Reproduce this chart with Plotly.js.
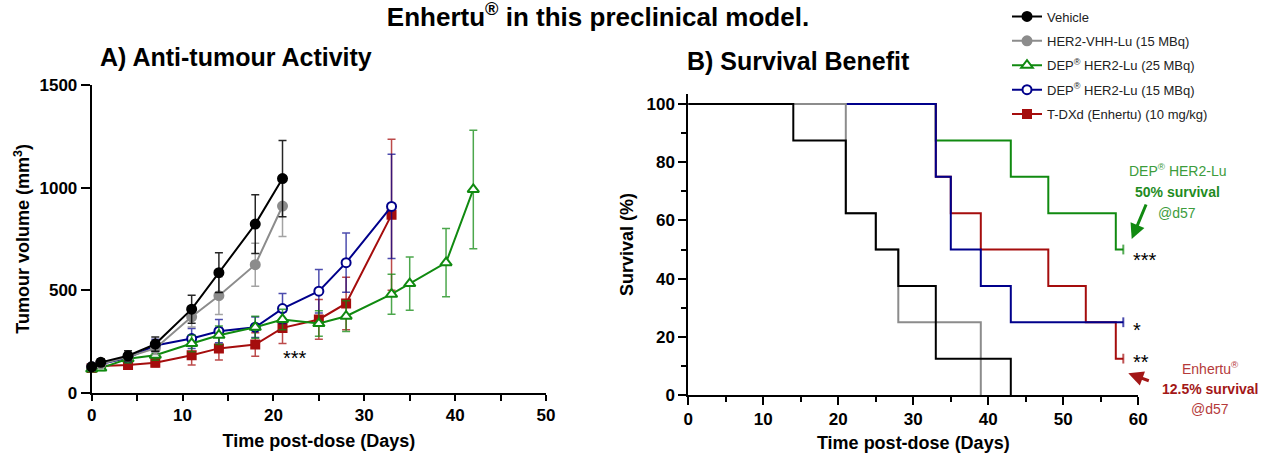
<!DOCTYPE html>
<html>
<head>
<meta charset="utf-8">
<script src="https://cdn.plot.ly/plotly-3.0.1.min.js"></script>
<style>html,body{margin:0;padding:0;background:#fff;}#chart{width:1274px;height:455px;}</style>
</head>
<body>
<div id="chart"></div>
<script>
// ---------- A) Tumour volume data ----------
const daysVehicle = [0, 1, 4, 7, 11, 14, 18, 21];
const volVehicle  = [126, 148, 180, 237, 407, 585, 822, 1044];
const errVehicle  = [15, 18, 25, 35, 68, 97, 143, 186];

const daysVHH = [0, 1, 4, 7, 11, 14, 18, 21];
const volVHH  = [126, 140, 175, 216, 370, 473, 624, 910];
const errVHH  = [12, 15, 22, 30, 50, 92, 105, 148];

const daysDEP25 = [0, 1, 4, 7, 11, 14, 18, 21, 25, 28, 33, 35, 39, 42];
const volDEP25  = [115, 120, 165, 183, 240, 280, 319, 357, 337, 373, 480, 532, 634, 991];
const errDEP25  = [10, 12, 20, 25, 40, 45, 54, 50, 62, 75, 97, 130, 166, 289];

const daysDEP15 = [0, 1, 4, 7, 11, 14, 18, 21, 25, 28, 33];
const volDEP15  = [126, 140, 170, 230, 264, 300, 319, 410, 495, 634, 908];
const errDEP15  = [12, 15, 22, 30, 49, 57, 50, 73, 106, 144, 254];

const daysTDXd = [0, 1, 4, 7, 11, 14, 18, 21, 25, 28, 33];
const volTDXd  = [120, 130, 135, 146, 183, 216, 235, 316, 357, 435, 867];
const errTDXd  = [10, 12, 15, 20, 48, 57, 57, 76, 97, 128, 368];

// ---------- B) Survival data ----------
const survTVehicle = [0, 14, 21, 25, 28, 33, 43];
const survVehicle  = [100, 87.5, 62.5, 50, 37.5, 12.5, 0];
const survTVHH = [0, 21, 25, 28, 39];
const survVHH  = [100, 62.5, 50, 25, 0];
const survTDEP25 = [0, 33, 43, 48, 57, 58];
const survDEP25  = [100, 87.5, 75, 62.5, 50, 50];
const survTDEP15 = [0, 33, 35, 39, 43, 58];
const survDEP15  = [100, 75, 50, 37.5, 25, 25];
const survTTDXd = [0, 33, 35, 39, 48, 53, 57, 58];
const survTDXd  = [100, 75, 62.5, 50, 37.5, 25, 12.5, 12.5];

const seriesNames = ['Vehicle', 'HER2-VHH-Lu (15 MBq)', 'DEP<sup>®</sup> HER2-Lu (25 MBq)',
                     'DEP<sup>®</sup> HER2-Lu (15 MBq)', 'T-DXd (Enhertu) (10 mg/kg)'];

const C = {veh:'#000000', vhh:'#8c8c8c', d25:'#108a10', d15:'#00008b', tdx:'#a50d0d'};
const FONT = 'Liberation Sans, Arial, Helvetica, sans-serif';

function tumour(x, y, e, name, color, errColor, symbol, fill, size, group) {
  return {
    x: x, y: y, name: name, type: 'scatter', mode: 'lines+markers',
    xaxis: 'x', yaxis: 'y', legendgroup: group, cliponaxis: false,
    line: {color: color, width: 2},
    marker: {symbol: symbol, size: size, color: fill, line: {color: color, width: 2}},
    error_y: {type: 'data', array: e, visible: true, color: errColor, thickness: 1.5, width: 4}
  };
}
function surv(t, s, color) {
  const sizes = t.map((v, i) => (i === t.length - 1 && v === 58) ? 7 : 0);
  return {
    x: t, y: s, type: 'scatter', mode: 'lines+markers', xaxis: 'x2', yaxis: 'y2',
    showlegend: false, cliponaxis: false, hoverinfo: 'skip',
    line: {color: color, width: 2, shape: 'hv'},
    marker: {symbol: 'line-ns', size: sizes, line: {color: color, width: 2}}
  };
}

const traces = [
  // survival (bottom to top)
  surv(survTDEP25, survDEP25, C.d25),
  surv(survTTDXd, survTDXd, C.tdx),
  surv(survTDEP15, survDEP15, C.d15),
  surv(survTVHH, survVHH, C.vhh),
  surv(survTVehicle, survVehicle, C.veh),
];
const tv = [
  tumour(daysVehicle, volVehicle, errVehicle, seriesNames[0], C.veh, 'rgba(0,0,0,0.85)', 'circle', C.veh, 9, 'g1'),
  tumour(daysVHH, volVHH, errVHH, seriesNames[1], C.vhh, 'rgba(140,140,140,0.8)', 'circle', C.vhh, 9, 'g2'),
  tumour(daysDEP25, volDEP25, errDEP25, seriesNames[2], C.d25, 'rgba(16,138,16,0.75)', 'triangle-up', '#ffffff', 10, 'g3'),
  tumour(daysDEP15, volDEP15, errDEP15, seriesNames[3], C.d15, 'rgba(0,0,139,0.7)', 'circle', '#ffffff', 9, 'g4'),
  tumour(daysTDXd, volTDXd, errTDXd, seriesNames[4], C.tdx, 'rgba(165,13,13,0.75)', 'square', C.tdx, 8, 'g5'),
];
// drawing order: red, blue, green, gray, black (legend order kept via legendrank)
tv.forEach((t, i) => t.legendrank = i + 1);
traces.push(tv[4], tv[3], tv[2], tv[1], tv[0]);

const axisCommon = {
  showline: true, linecolor: '#000', linewidth: 2, ticks: 'outside', tickcolor: '#000',
  tickwidth: 2, showgrid: false, zeroline: false, fixedrange: true,
  tickfont: {family: FONT, size: 17, color: '#000', weight: 'bold'},
};

const H = 455, W = 1274;
const py = v => 1 - v / H, px = v => v / W;

const layout = {
  width: W, height: H, margin: {l: 0, r: 0, t: 0, b: 0},
  paper_bgcolor: '#fff', plot_bgcolor: '#fff', showlegend: true,
  font: {family: FONT, color: '#000'},
  title: {text: 'Enhertu<sup>®</sup> in this preclinical model.', x: px(598), xanchor: 'center',
          y: py(17), yanchor: 'middle', yref: 'container',
          font: {family: FONT, size: 26, weight: 'bold', color: '#000'}},
  xaxis: Object.assign({}, axisCommon, {
    domain: [px(91.7), px(546)], range: [0, 50], dtick: 10, ticklen: 6,
    minor: {dtick: 5, ticks: 'outside', ticklen: 6, tickwidth: 2, tickcolor: '#000'},
    anchor: 'y',
    title: {text: 'Time post-dose (Days)', standoff: 10, font: {family: FONT, size: 18, weight: 'bold', color: '#000'}}
  }),
  yaxis: Object.assign({}, axisCommon, {
    domain: [py(392.7), py(85)], range: [0, 1500], dtick: 500, ticklen: 9,
    anchor: 'x',
    title: {text: 'Tumour volume (mm<sup>3</sup>)', standoff: 5, font: {family: FONT, size: 18, weight: 'bold', color: '#000'}}
  }),
  xaxis2: Object.assign({}, axisCommon, {
    domain: [px(688.3), px(1138.3)], range: [0, 60], dtick: 10, ticklen: 8,
    minor: {dtick: 5, ticks: 'outside', ticklen: 5, tickwidth: 2, tickcolor: '#000'},
    anchor: 'y2',
    title: {text: 'Time post-dose (Days)', standoff: 8, font: {family: FONT, size: 18, weight: 'bold', color: '#000'}}
  }),
  yaxis2: Object.assign({}, axisCommon, {
    domain: [py(395), py(94)], range: [0, 103.44], tickvals: [0, 20, 40, 60, 80, 100], ticklen: 8,
    minor: {tickvals: [10, 30, 50, 70, 90], ticks: 'outside', ticklen: 5, tickwidth: 2, tickcolor: '#000'},
    anchor: 'x2',
    title: {text: 'Survival (%)', standoff: 8, font: {family: FONT, size: 18, weight: 'bold', color: '#000'}}
  }),
  legend: {x: px(1007), y: py(1.5), xanchor: 'left', yanchor: 'top', traceorder: 'grouped',
           tracegroupgap: 4.5, bgcolor: 'rgba(0,0,0,0)',
           font: {family: FONT, size: 13, color: '#222'}},
  annotations: [
    {text: 'A) Anti-tumour Activity', xref: 'paper', yref: 'paper', x: px(236), y: py(57),
     xanchor: 'center', yanchor: 'middle', showarrow: false,
     font: {family: FONT, size: 25, weight: 'bold', color: '#000'}},
    {text: 'B) Survival Benefit', xref: 'paper', yref: 'paper', x: px(799), y: py(61),
     xanchor: 'center', yanchor: 'middle', showarrow: false,
     font: {family: FONT, size: 25, weight: 'bold', color: '#000'}},
    {text: '***', xref: 'x', yref: 'y', x: 22.4, y: 168, xanchor: 'center', yanchor: 'middle',
     showarrow: false, font: {family: FONT, size: 20, color: '#000'}},
    {text: '***', xref: 'paper', yref: 'paper', x: px(1131), y: py(260), xanchor: 'left', yanchor: 'middle',
     showarrow: false, font: {family: FONT, size: 20, color: '#000'}},
    {text: '*', xref: 'paper', yref: 'paper', x: px(1131), y: py(330), xanchor: 'left', yanchor: 'middle',
     showarrow: false, font: {family: FONT, size: 20, color: '#000'}},
    {text: '**', xref: 'paper', yref: 'paper', x: px(1131), y: py(362), xanchor: 'left', yanchor: 'middle',
     showarrow: false, font: {family: FONT, size: 20, color: '#000'}},
    {text: 'DEP<sup>®</sup> HER2-Lu', xref: 'paper', yref: 'paper', x: px(1177), y: py(170),
     xanchor: 'center', yanchor: 'middle', showarrow: false,
     font: {family: FONT, size: 14, color: '#3c9c3c'}},
    {text: '<b>50% survival</b>', xref: 'paper', yref: 'paper', x: px(1177), y: py(192),
     xanchor: 'center', yanchor: 'middle', showarrow: false,
     font: {family: FONT, size: 14, color: '#1f8c1f'}},
    {text: '@d57', xref: 'paper', yref: 'paper', x: px(1177), y: py(213),
     xanchor: 'center', yanchor: 'middle', showarrow: false,
     font: {family: FONT, size: 14, color: '#3c9c3c'}},
    {text: '', xref: 'paper', yref: 'paper', x: px(1131.7), y: py(239), ax: 15, ay: -36,
     showarrow: true, arrowhead: 2, arrowsize: 1, arrowwidth: 3, arrowcolor: '#118a11'},
    {text: 'Enhertu<sup>®</sup>', xref: 'paper', yref: 'paper', x: px(1210), y: py(368),
     xanchor: 'center', yanchor: 'middle', showarrow: false,
     font: {family: FONT, size: 14, color: '#b53a3a'}},
    {text: '<b>12.5% survival</b>', xref: 'paper', yref: 'paper', x: px(1210), y: py(389),
     xanchor: 'center', yanchor: 'middle', showarrow: false,
     font: {family: FONT, size: 14, color: '#a31717'}},
    {text: '@d57', xref: 'paper', yref: 'paper', x: px(1210), y: py(409),
     xanchor: 'center', yanchor: 'middle', showarrow: false,
     font: {family: FONT, size: 14, color: '#b53a3a'}},
    {text: '', xref: 'paper', yref: 'paper', x: px(1128.3), y: py(373.3), ax: 22, ay: 8,
     showarrow: true, arrowhead: 2, arrowsize: 1, arrowwidth: 3, arrowcolor: '#a31717'},
  ]
};

Plotly.newPlot('chart', traces, layout, {displayModeBar: false, staticPlot: true});
</script>
</body>
</html>
